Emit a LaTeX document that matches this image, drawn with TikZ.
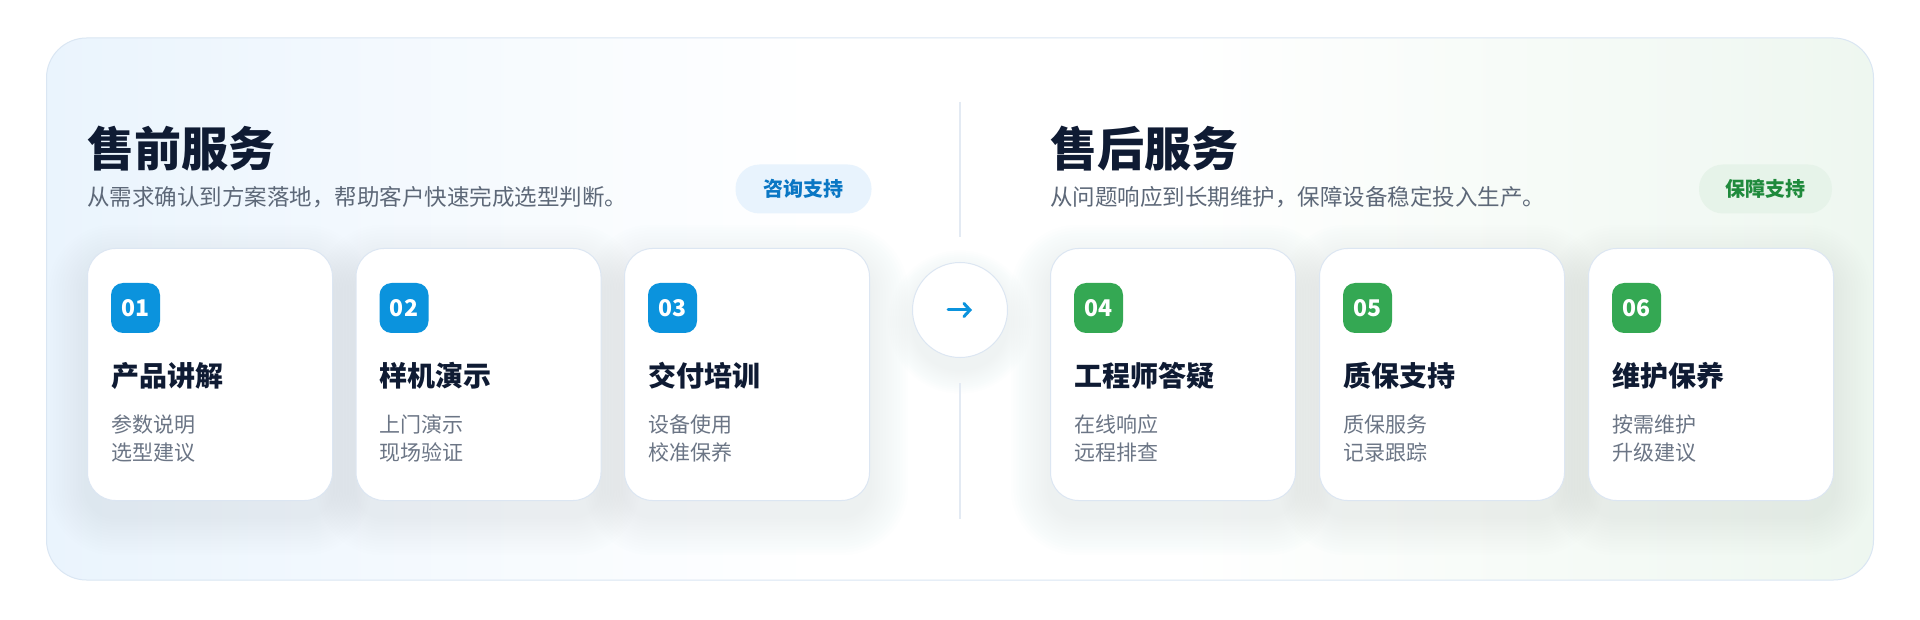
\documentclass[tikz,border=0pt]{standalone}
\usepackage{fontspec}
\setmainfont{Noto Sans CJK SC}
\newfontfamily\heavyfont{Noto Sans CJK SC}[UprightFont=* Black]
\usetikzlibrary{arrows.meta}
\definecolor{titlec}{HTML}{0F1B33}
\definecolor{subc}{HTML}{5D6878}
\definecolor{cardsubc}{HTML}{6B7585}
\definecolor{badgeblue}{HTML}{0B93DD}
\definecolor{badgegreen}{HTML}{34A853}
\definecolor{pillbluebg}{HTML}{E8F3FD}
\definecolor{pillbluetext}{HTML}{0A77C4}
\definecolor{pillgreenbg}{HTML}{E6F3E9}
\definecolor{pillgreentext}{HTML}{1F8A3C}
\definecolor{cardline}{HTML}{DCE6F2}
\definecolor{panelline}{HTML}{DAE6F3}
\definecolor{divline}{HTML}{E3EAF3}
\definecolor{panelblue}{HTML}{EAF4FD}
\definecolor{panelgreen}{HTML}{EEF7F0}
\definecolor{shadowc}{HTML}{A3BCDA}
\pgfdeclarehorizontalshading{panelshade}{100bp}{color(0bp)=(panelblue); color(25bp)=(panelblue); color(46bp)=(white); color(56bp)=(white); color(75bp)=(panelgreen); color(100bp)=(panelgreen)}
\tikzset{
  sectitle/.style={anchor=base west, inner sep=0pt, text=titlec, font=\heavyfont\fontsize{47}{56}\selectfont},
  secsub/.style={anchor=base west, inner sep=0pt, text=subc, font=\fontsize{22.5}{27}\selectfont},
  pill/.style={rounded corners=24pt, minimum height=49pt, inner sep=0pt, font=\bfseries\fontsize{20}{24}\selectfont},
  card/.style={draw=cardline, line width=1pt, fill=white, rounded corners=28pt, minimum width=245pt, minimum height=252pt, inner sep=0pt, anchor=north west},
  badge/.style={fill=#1, rounded corners=12pt, minimum width=49pt, minimum height=50pt, inner sep=0pt, text=white, font=\bfseries\fontsize{23}{23}\selectfont},
  cardtitle/.style={anchor=base west, inner sep=0pt, text=titlec, font=\bfseries\fontsize{28}{34}\selectfont},
  cardsub/.style={anchor=base west, inner sep=0pt, text=cardsubc, font=\fontsize{21}{28}\selectfont},
}
\begin{document}
\begin{tikzpicture}[x=1pt,y=-1pt]
\fill[white] (0,0) rectangle (1920,620);
\useasboundingbox (0,0) rectangle (1920,620);
% panel
\shade[shading=panelshade, rounded corners=40pt] (46.5,38) rectangle (1873.5,580);
\draw[panelline, line width=1pt, rounded corners=40pt] (46.5,38) rectangle (1873.5,580);
% shadows
\foreach \cx in {87,355.5,624,1050,1319,1588} {
  \foreach \i in {1,...,14} {
    \pgfmathsetmacro\she{\i*2.8}
    \pgfmathsetmacro\shr{28+\she}
    \fill[shadowc, opacity=0.011, rounded corners=\shr pt] (\cx-\she, 248-\she+16) rectangle (\cx+245+\she, 500+\she+16);
  }
}
\foreach \i in {1,...,12} {
  \pgfmathsetmacro\she{47.5+\i*2}
  \fill[shadowc, opacity=0.011] (960,322) circle (\she pt);
}
% dividers
\draw[divline, line width=2pt] (960,102) -- (960,237);
\draw[divline, line width=2pt] (960,383) -- (960,519);
% headers
\node[sectitle] (t1) at (87,166.5) {售前服务};
\node[secsub] (s1) at (87,206) {从需求确认到方案落地，帮助客户快速完成选型判断。};
\node[pill, fill=pillbluebg, text=pillbluetext, minimum width=136pt] (p1) at (803.5,189) {咨询支持};
\node[sectitle] (t2) at (1050,166.5) {售后服务};
\node[secsub] (s2) at (1050,206) {从问题响应到长期维护，保障设备稳定投入生产。};
\node[pill, fill=pillgreenbg, text=pillgreentext, minimum width=133pt] (p2) at (1765.5,189) {保障支持};
% circle with arrow
\node[circle, draw=cardline, line width=1pt, fill=white, minimum size=95pt, inner sep=0pt] (mid) at (960,310) {};
\coordinate (arrS) at (948,310);
\coordinate (arrE) at (972,310);
\draw[badgeblue, line width=3pt, line cap=round, -{Straight Barb[length=6pt,width=13pt,line cap=round]}] (arrS) -- (arrE);
% cards
\foreach \cx/\n/\col/\tt/\la/\lb in {
  87/01/badgeblue/产品讲解/参数说明/选型建议,
  355.5/02/badgeblue/样机演示/上门演示/现场验证,
  624/03/badgeblue/交付培训/设备使用/校准保养,
  1050/04/badgegreen/工程师答疑/在线响应/远程排查,
  1319/05/badgegreen/质保支持/质保服务/记录跟踪,
  1588/06/badgegreen/维护保养/按需维护/升级建议} {
  \node[card] (card\n) at (\cx,248) {};
  \node[badge=\col] (badge\n) at (\cx+48.5,308) {\n};
  \node[cardtitle] (title\n) at (\cx+24,386.5) {\tt};
  \node[cardsub] (la\n) at (\cx+24,432) {\la};
  \node[cardsub] (lb\n) at (\cx+24,460) {\lb};
}
\end{tikzpicture}
\end{document}
